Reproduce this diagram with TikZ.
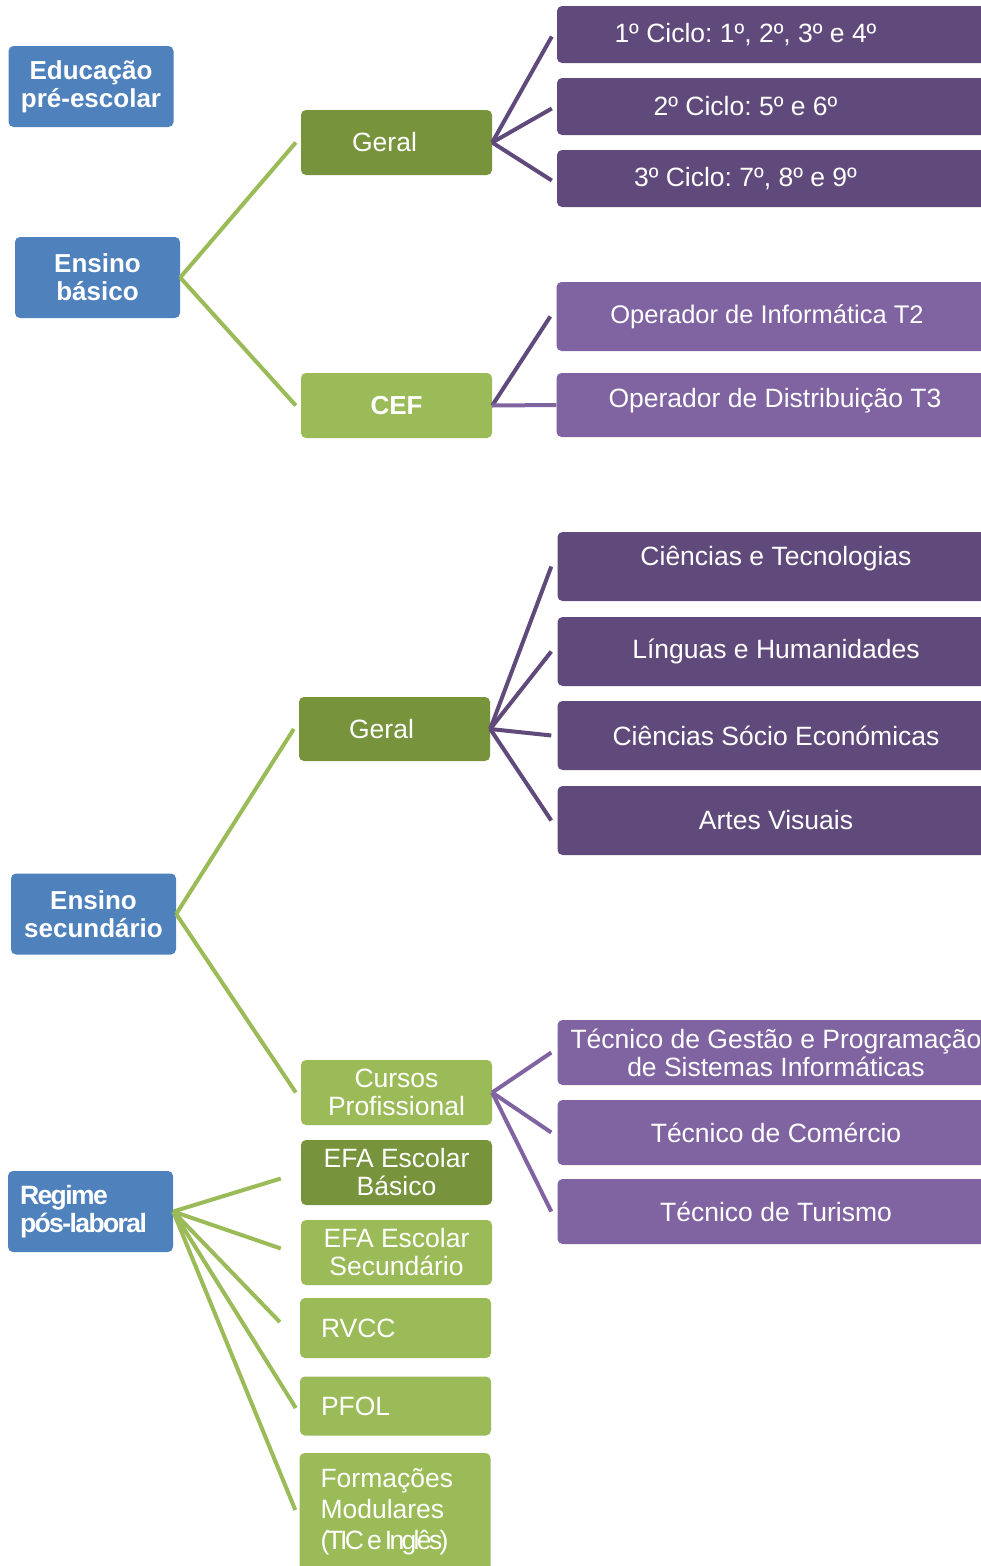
\documentclass[tikz,border=0pt]{standalone}
\usepackage{fontspec}
\setmainfont{Liberation Sans}
\usepackage{graphicx}
\definecolor{azul}{HTML}{4F81BD}
\definecolor{verdeesc}{HTML}{77933C}
\definecolor{verde}{HTML}{9BBB59}
\definecolor{roxoesc}{HTML}{604A7B}
\definecolor{roxo}{HTML}{8064A2}
\frenchspacing
\begin{document}
\begin{tikzpicture}[x=1pt,y=-1pt,
	caixa/.style={rectangle,rounded corners=5pt,inner sep=0pt,text=white,align=center,font=\fontsize{26.5}{28}\selectfont},
	nivel/.style={caixa,fill=azul,minimum width=165pt,minimum height=81pt,font=\bfseries\fontsize{26}{28}\selectfont},
	ramo/.style={caixa,fill=#1,minimum width=191pt,minimum height=65pt},
	curso/.style={caixa,fill=#1,minimum width=437pt,minimum height=69pt},
	rotulo/.style={text=white,inner sep=0pt,font=\fontsize{26.5}{28}\selectfont},
	ciclotxt/.style={rotulo,xshift=-30pt},
	lverde/.style={line width=4pt,draw=verde},
	lroxo/.style={line width=4pt,draw=#1}]
	\useasboundingbox (0,0) rectangle (981,1566);
	\clip (0,0) rectangle (981,1566);
	% ensino basico
	\node[nivel] (edu) at (91,86.5) {Educação\\pré-escolar};
	\node[nivel] (eb) at (97.5,277.5) {Ensino\\básico};
	\node[ramo=verdeesc,label={[rotulo,xshift=-12pt]center:Geral}] (geral1) at (396.5,142.5) {};
	\node[ramo=verde,font=\bfseries\fontsize{26}{28}\selectfont] (cef) at (396.5,405.5) {CEF};
	\node[curso=roxoesc,minimum height=57pt,label={[ciclotxt]center:{1º Ciclo: 1º, 2º, 3º e 4º}}] (c1) at (775.5,34.5) {};
	\node[curso=roxoesc,minimum height=57pt,label={[ciclotxt]center:{2º Ciclo: 5º e 6º}}] (c2) at (775.5,106.5) {};
	\node[curso=roxoesc,minimum height=57pt,label={[ciclotxt]center:{3º Ciclo: 7º, 8º e 9º}}] (c3) at (775.5,178.5) {};
	\node[curso=roxo,label={[rotulo,xshift=-8pt,font=\fontsize{25.5}{28}\selectfont]center:Operador de Informática T2}] (opi) at (775,316.5) {};
	\node[curso=roxo,minimum height=64pt,label={[rotulo,yshift=4pt]center:Operador de Distribuição T3}] (opd) at (775,405) {};
	% ensino secundario
	\node[nivel] (es) at (93.5,914) {Ensino\\secundário};
	\node[ramo=verdeesc,minimum height=64pt,label={[rotulo,xshift=-13pt]center:Geral}] (geral2) at (394.5,729) {};
	\node[curso=roxoesc,label={[rotulo,yshift=8pt]center:Ciências e Tecnologias}] (ct) at (776,566.5) {};
	\node[curso=roxoesc] (lh) at (776,651.5) {Línguas e Humanidades};
	\node[curso=roxoesc] (cse) at (776,735.5) {Ciências Sócio Económicas};
	\node[curso=roxoesc] (av) at (776,820.5) {Artes Visuais};
	\node[ramo=verde] (cp) at (396.5,1092.5) {Cursos\\Profissional};
	\node[curso=roxo,minimum height=65pt] (tgp) at (776,1052.5) {Técnico de Gestão e Programação\\de Sistemas Informáticas};
	\node[curso=roxo,minimum height=65pt] (tc) at (776,1132.5) {Técnico de Comércio};
	\node[curso=roxo,minimum height=65pt] (tt) at (776,1211.5) {Técnico de Turismo};
	% regime pos-laboral
	\node[nivel,text width=141pt,align=left,font=\bfseries\fontsize{26.5}{28}\selectfont\addfontfeatures{LetterSpace=-6}] (rpl) at (90.5,1211.5) {Regime\\pós-laboral};
	\node[ramo=verdeesc] (efab) at (396.5,1172.5) {EFA Escolar\\Básico};
	\node[ramo=verde] (efas) at (396.5,1252.5) {EFA Escolar\\Secundário};
	\node[ramo=verde,minimum height=60pt,text width=149pt,align=left] (rvcc) at (395.5,1328) {RVCC};
	\node[ramo=verde,minimum height=59pt,text width=149pt,align=left] (pfol) at (395.5,1406) {PFOL};
	\node[ramo=verde,minimum height=118pt,text width=149pt,align=left,font=\fontsize{26.5}{31}\selectfont] (fm) at (395,1512) {Formações\\Modulares\\{\addfontfeatures{LetterSpace=-10}(TIC\hspace{3pt}e\hspace{3pt}Inglês)}};
	\draw[lverde] (eb.east) -- ([xshift=-5pt]geral1.west);
	\draw[lverde] (eb.east) -- ([xshift=-5pt]cef.west);
	\foreach \c in {c1,c2,c3}
		\draw[lroxo=roxoesc] (geral1.east) -- ([xshift=-5pt,yshift=-2pt]\c.west);
	\draw[lroxo=roxoesc] (cef.east) -- ([xshift=-6pt]opi.west);
	\draw[lroxo=roxo] (cef.east) -- (opd.west);
	\draw[lverde] (es.east) -- ([xshift=-5pt]geral2.west);
	\draw[lverde] (es.east) -- ([xshift=-5pt]cp.west);
	\foreach \c in {ct,lh,cse,av}
		\draw[lroxo=roxoesc] (geral2.east) -- ([xshift=-6pt]\c.west);
	\foreach \c in {tgp,tc,tt}
		\draw[lroxo=roxo] (cp.east) -- ([xshift=-6pt]\c.west);
	\draw[lverde] (rpl.east) -- ([xshift=-20pt,yshift=-6pt]efab.west);
	\draw[lverde] (rpl.east) -- ([xshift=-20pt,yshift=4pt]efas.west);
	\draw[lverde] (rpl.east) -- ([xshift=-20pt,yshift=6pt]rvcc.west);
	\draw[lverde] (rpl.east) -- ([xshift=-4pt,yshift=-2pt]pfol.west);
	\draw[lverde] (rpl.east) -- ([xshift=-4pt,yshift=2pt]fm.west);
\end{tikzpicture}
\end{document}
